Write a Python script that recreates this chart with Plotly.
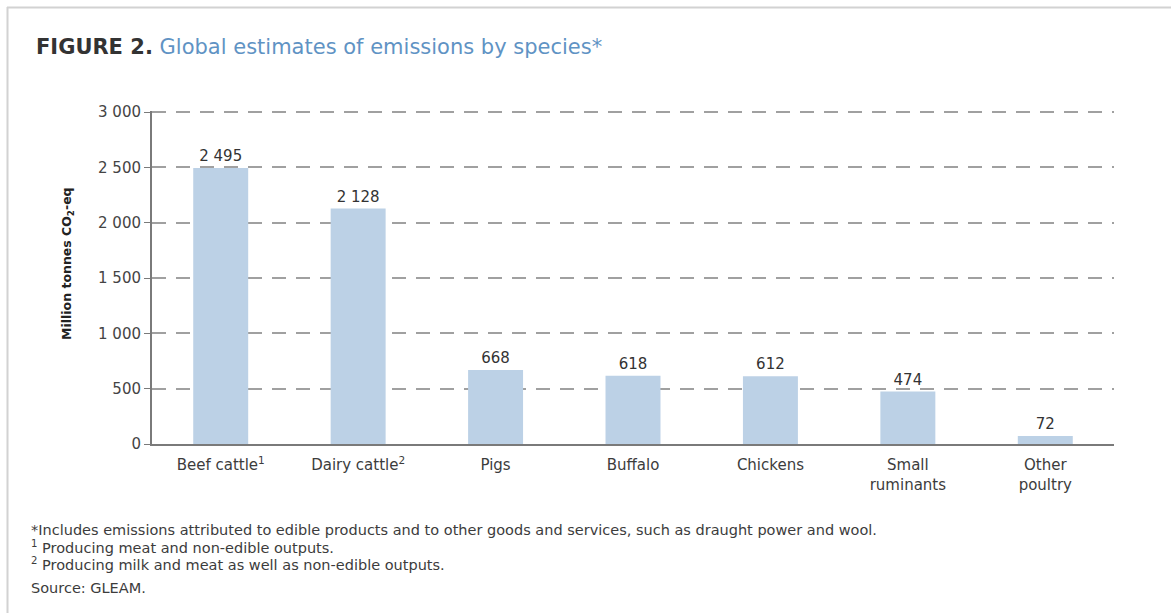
import plotly.graph_objects as go

# Emissions by species, million tonnes CO2-eq
species = [
    "Beef cattle<sup>1</sup>",
    "Dairy cattle<sup>2</sup>",
    "Pigs",
    "Buffalo",
    "Chickens",
    "Small<br>ruminants",
    "Other<br>poultry",
]
emissions = [2495, 2128, 668, 618, 612, 474, 72]
y_ticks = [0, 500, 1000, 1500, 2000, 2500, 3000]

title_bold = "FIGURE 2."
title_rest = "Global estimates of emissions by species*"
footnotes = [
    "*Includes emissions attributed to edible products and to other goods and services, such as draught power and wool.",
    "<sup>1</sup> Producing meat and non-edible outputs.",
    "<sup>2</sup> Producing milk and meat as well as non-edible outputs.",
    "Source: GLEAM.",
]

W, H = 1171, 613
L, R, T, B = 152, 57, 111, 169
pw, ph = W - L - R, H - T - B
Y_MAX = 3010  # a little headroom so the 3 000 gridline is drawn


def px(x):
    return (x - L) / pw


def py(y):
    return (H - B - y) / ph


FONT = "DejaVu Sans"
TXT = "#3c3c3c"

fig = go.Figure(
    go.Bar(
        x=species,
        y=emissions,
        width=0.4,
        marker=dict(color="#bcd1e6", line=dict(width=0)),
        texttemplate="%{y:,}",
        textposition="outside",
        textfont=dict(family=FONT, size=15, color="#333333"),
        cliponaxis=False,
    )
)

annotations = [
    dict(
        x=px(34), y=py(47), xref="paper", yref="paper",
        xanchor="left", yanchor="middle", showarrow=False,
        text=f"<b>{title_bold}</b> <span style='color:#5f93c4'>{title_rest}</span>",
        font=dict(family=FONT, size=21, color="#333333"),
    ),
    dict(
        x=px(67), y=py(264), xref="paper", yref="paper",
        xanchor="center", yanchor="middle", showarrow=False, textangle=-90,
        text="<b>Million tonnes CO<sub>2</sub>-eq</b>",
        font=dict(family=FONT, size=12.5, color="#222222"),
    ),
]
for note, ypix in zip(footnotes, [530, 547, 564, 588]):
    annotations.append(
        dict(
            x=px(29), y=py(ypix), xref="paper", yref="paper",
            xanchor="left", yanchor="middle", showarrow=False,
            text=note, font=dict(family=FONT, size=14.5, color=TXT),
        )
    )

border = "#d2d2d2"
shapes = [
    dict(type="line", xref="paper", yref="paper",
         x0=px(7), x1=px(W), y0=py(7.5), y1=py(7.5),
         line=dict(color=border, width=2)),
    dict(type="line", xref="paper", yref="paper",
         x0=px(7.5), x1=px(7.5), y0=py(7), y1=py(H),
         line=dict(color=border, width=2)),
]

fig.update_layout(
    width=W, height=H,
    margin=dict(l=L, r=R, t=T, b=B, pad=0),
    paper_bgcolor="white", plot_bgcolor="white",
    separators=". ",
    showlegend=False,
    annotations=annotations,
    shapes=shapes,
    xaxis=dict(
        showline=True, linecolor="#7a7a7a", linewidth=2,
        showgrid=False, ticks="", ticklabelstandoff=6,
        tickfont=dict(family=FONT, size=15, color=TXT),
    ),
    yaxis=dict(
        range=[0, Y_MAX], tickvals=y_ticks, tickformat=",",
        showline=True, linecolor="#7a7a7a", linewidth=2,
        ticks="outside", ticklen=6, tickcolor="#7a7a7a", tickwidth=1,
        showgrid=True, gridcolor="#a0a0a0", gridwidth=1.5, griddash="14px,10px",
        zeroline=False,
        tickfont=dict(family=FONT, size=15, color="#444444"),
    ),
)

fig.write_html("out.html")
